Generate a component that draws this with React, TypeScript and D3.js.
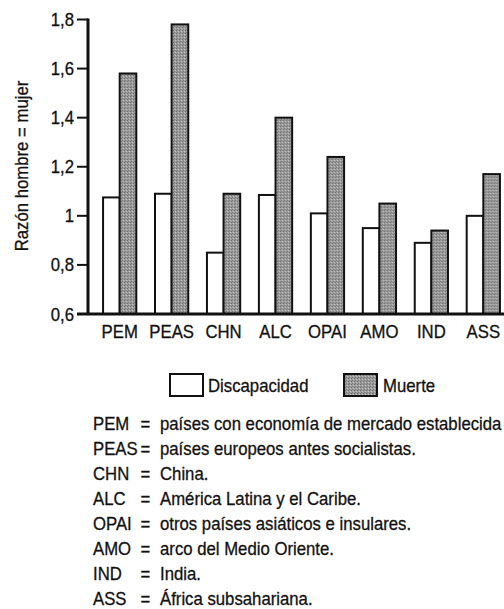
// App.tsx
import React, { useEffect, useRef } from 'react';
import * as d3 from 'd3';

const categories = ['PEM', 'PEAS', 'CHN', 'ALC', 'OPAI', 'AMO', 'IND', 'ASS'];
const discapacidad = [1.075, 1.09, 0.85, 1.085, 1.01, 0.95, 0.89, 1.0];
const muerte = [1.58, 1.78, 1.09, 1.4, 1.24, 1.05, 0.94, 1.17];
const yTicks = [0.6, 0.8, 1, 1.2, 1.4, 1.6, 1.8];
const seriesNames = ['Discapacidad', 'Muerte'];
const abbreviations = ['PEM', 'PEAS', 'CHN', 'ALC', 'OPAI', 'AMO', 'IND', 'ASS'];
const definitions = [
    'países con economía de mercado establecida',
    'países europeos antes socialistas.',
    'China.',
    'América Latina y el Caribe.',
    'otros países asiáticos e insulares.',
    'arco del Medio Oriente.',
    'India.',
    'África subsahariana.'
];

const FONT = '"Liberation Sans", Arial, sans-serif';
const FS = 18;
const SQUEEZE = 0.93; // condensed look of the original typeface

const App: React.FC = () => {
    const svgRef = useRef<SVGSVGElement | null>(null);

    useEffect(() => {
        const svg = d3.select(svgRef.current);
        svg.selectAll('*').remove();

        const width = 504;
        const height = 609;
        svg.attr('width', width).attr('height', height);

        // grainy grey fill for the "Muerte" bars
        const defs = svg.append('defs');
        const pat = defs.append('pattern')
            .attr('id', 'stipple')
            .attr('patternUnits', 'userSpaceOnUse')
            .attr('width', 3)
            .attr('height', 3);
        pat.append('rect').attr('width', 3).attr('height', 3).attr('fill', '#9a9a9a');
        pat.append('rect').attr('x', 0).attr('y', 0).attr('width', 1).attr('height', 1).attr('fill', '#6e6e6e');
        pat.append('rect').attr('x', 2).attr('y', 1).attr('width', 1).attr('height', 1).attr('fill', '#c4c4c4');
        pat.append('rect').attr('x', 1).attr('y', 2).attr('width', 1).attr('height', 1).attr('fill', '#7a7a7a');

        const axisX = 88;
        const baseY = 314;

        const x = d3.scaleBand()
            .domain(categories)
            .range([axisX, 515])
            .paddingInner(0.36)
            .paddingOuter(0.29);

        const xs = d3.scaleBand()
            .domain(seriesNames)
            .range([0, x.bandwidth()])
            .padding(0);

        const y = d3.scaleLinear()
            .domain([0.6, 1.8])
            .range([baseY, 19.5]);

        const g = svg.append('g');

        // text with the narrow look: translate, optional rotate, then squeeze horizontally
        const label = (parent: d3.Selection<any, any, any, any>, tx: number, ty: number, str: string,
            anchor = 'start', rot = 0) => parent.append('text')
            .attr('transform', `translate(${tx},${ty})${rot ? ` rotate(${rot})` : ''} scale(${SQUEEZE},1)`)
            .attr('text-anchor', anchor)
            .attr('font-family', FONT)
            .attr('font-size', FS)
            .attr('fill', '#111')
            .attr('stroke', '#111')
            .attr('stroke-width', 0.3)
            .text(str);

        const rows = categories.map((c, i) => ({ cat: c, vals: [discapacidad[i], muerte[i]] }));

        const groups = g.selectAll('.grp')
            .data(rows)
            .enter().append('g')
            .attr('transform', d => `translate(${x(d.cat)},0)`);

        groups.selectAll('rect')
            .data(d => d.vals.map((v, k) => ({ name: seriesNames[k], v })))
            .enter().append('rect')
            .attr('x', d => xs(d.name) || 0)
            .attr('y', d => y(d.v))
            .attr('width', xs.bandwidth())
            .attr('height', d => baseY - y(d.v))
            .attr('fill', d => d.name === 'Muerte' ? 'url(#stipple)' : '#ffffff')
            .attr('stroke', '#111')
            .attr('stroke-width', 2);

        // y axis
        g.append('line')
            .attr('x1', axisX).attr('x2', axisX)
            .attr('y1', y(1.8) - 1).attr('y2', baseY)
            .attr('stroke', '#111').attr('stroke-width', 3);

        g.selectAll('.ytick')
            .data(yTicks)
            .enter().append('line')
            .attr('x1', 77).attr('x2', axisX)
            .attr('y1', d => y(d)).attr('y2', d => y(d))
            .attr('stroke', '#111').attr('stroke-width', 2);

        const fmt = (d: number) => d3.format('.1f')(d).replace('.', ',').replace(',0', '');
        yTicks.forEach(t => label(g, 74, y(t) + 6.5, fmt(t), 'end'));

        // x axis
        g.append('line')
            .attr('x1', 77).attr('x2', width)
            .attr('y1', baseY).attr('y2', baseY)
            .attr('stroke', '#111').attr('stroke-width', 3);

        categories.forEach(c => label(g, (x(c) || 0) + x.bandwidth() / 2, 338, c, 'middle'));

        // y title
        label(g, 28, 166, 'Razón hombre = mujer', 'middle', -90);

        // legend
        const legend = [
            { name: seriesNames[0], bx: 170, tx: 208 },
            { name: seriesNames[1], bx: 344, tx: 383 }
        ];
        legend.forEach(l => {
            g.append('rect')
                .attr('x', l.bx).attr('y', 374)
                .attr('width', 33).attr('height', 22)
                .attr('fill', l.name === 'Muerte' ? 'url(#stipple)' : '#fff')
                .attr('stroke', '#111').attr('stroke-width', 2);
            label(g, l.tx, 392, l.name);
        });

        // abbreviations
        abbreviations.forEach((a, i) => {
            const by = 430 + i * 25;
            label(g, 93, by, a);
            label(g, 140.5, by, '=');
            label(g, 160, by, definitions[i]);
        });
    }, []);

    return <svg ref={svgRef} style={{ display: 'block', position: 'absolute', left: 0, top: 0 }}></svg>;
};

export default App;
